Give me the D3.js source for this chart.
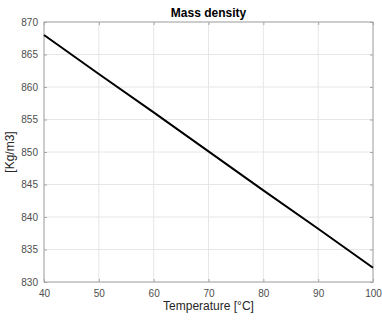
<!DOCTYPE html>
<html>
<head>
<meta charset="utf-8">
<title>Mass density</title>
<script src="https://d3js.org/d3.v7.min.js"></script>
<style>
body { margin: 0; background: #fff; }
text { font-family: "Liberation Sans", Arial, sans-serif; }
</style>
</head>
<body>
<div id="chart"></div>
<script>
// data
var temperature = [40, 50, 60, 70, 80, 90, 100];
var density = [868.0, 862.0, 856.1, 850.1, 844.1, 838.2, 832.2];
var xTicks = [40, 50, 60, 70, 80, 90, 100];
var yTicks = [830, 835, 840, 845, 850, 855, 860, 865, 870];

var width = 382, height = 320;
var margin = {top: 22, right: 9, bottom: 38, left: 44};
var w = width - margin.left - margin.right,
    h = height - margin.top - margin.bottom;

var svg = d3.select("#chart").append("svg")
    .attr("width", width)
    .attr("height", height);

var g = svg.append("g")
    .attr("transform", "translate(" + margin.left + "," + margin.top + ")");

var x = d3.scaleLinear().domain([40, 100]).range([0, w]);
var y = d3.scaleLinear().domain([830, 870]).range([h, 0]);

/* grid */
g.append("g").selectAll("line").data(xTicks).enter().append("line")
    .attr("x1", function(d) { return x(d); })
    .attr("x2", function(d) { return x(d); })
    .attr("y1", 0).attr("y2", h)
    .style("stroke", "#e6e6e6").style("stroke-width", 1);
g.append("g").selectAll("line").data(yTicks).enter().append("line")
    .attr("y1", function(d) { return y(d); })
    .attr("y2", function(d) { return y(d); })
    .attr("x1", 0).attr("x2", w)
    .style("stroke", "#e6e6e6").style("stroke-width", 1);

/* axes, ticks inward like matlab */
var axColor = "#a6a6a6";
function styleAxis(sel, labels) {
  sel.select(".domain").remove();
  sel.selectAll(".tick line").style("stroke", axColor);
  sel.selectAll("text").style("font-size", "10px").style("fill", "#4d4d4d");
  if (!labels) sel.selectAll("text").remove();
}

g.append("g").attr("transform", "translate(0," + h + ")")
    .call(d3.axisBottom(x).tickValues(xTicks).tickSizeInner(-3).tickSizeOuter(0).tickPadding(8))
    .call(styleAxis, true);
g.append("g")
    .call(d3.axisTop(x).tickValues(xTicks).tickSizeInner(-3).tickSizeOuter(0))
    .call(styleAxis, false);
g.append("g")
    .call(d3.axisLeft(y).tickValues(yTicks).tickSizeInner(-3).tickSizeOuter(0).tickPadding(6))
    .call(styleAxis, true);
g.append("g").attr("transform", "translate(" + w + ",0)")
    .call(d3.axisRight(y).tickValues(yTicks).tickSizeInner(-3).tickSizeOuter(0))
    .call(styleAxis, false);

g.append("rect")
    .attr("width", w).attr("height", h)
    .style("fill", "none").style("stroke", axColor).style("stroke-width", 1);

/* line */
var line = d3.line()
    .x(function(d, i) { return x(temperature[i]); })
    .y(function(d) { return y(d); });

g.append("path")
    .datum(density)
    .attr("d", line)
    .style("fill", "none")
    .style("stroke", "#000")
    .style("stroke-width", 2);

/* labels */
svg.append("text")
    .attr("x", margin.left + w / 2).attr("y", 17)
    .attr("text-anchor", "middle")
    .style("font-size", "12px").style("font-weight", "bold").style("fill", "#000")
    .text("Mass density");

svg.append("text")
    .attr("x", margin.left + w / 2).attr("y", 310)
    .attr("text-anchor", "middle")
    .style("font-size", "12px").style("fill", "#262626")
    .text("Temperature [°C]");

svg.append("text")
    .attr("transform", "translate(14," + (margin.top + h / 2) + ") rotate(-90)")
    .attr("text-anchor", "middle")
    .style("font-size", "12px").style("fill", "#262626")
    .text("[Kg/m3]");
</script>
</body>
</html>
